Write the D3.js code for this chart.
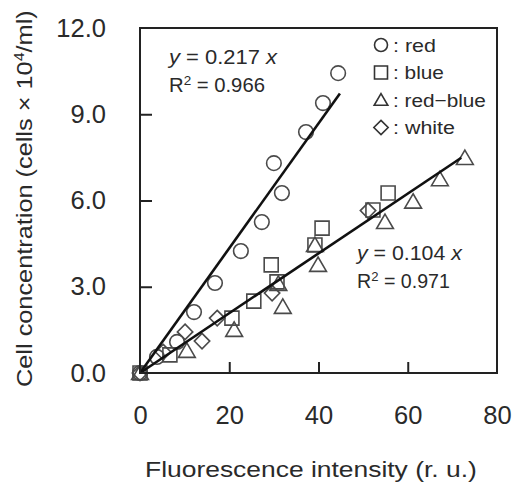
<!DOCTYPE html>
<html><head><meta charset="utf-8">
<script src="https://cdn.jsdelivr.net/npm/d3@7"></script>
<style>body{margin:0;background:#fff}svg{display:block}text{font-family:"Liberation Sans",Arial,sans-serif;fill:#2a2a2a}</style>
</head><body>
<script>
// data
const redX = [0, 3.8, 8.3, 12.1, 16.8, 22.6, 27.3, 30.0, 31.8, 37.2, 41.0, 44.4];
const redY = [0, 0.56, 1.08, 2.12, 3.13, 4.24, 5.25, 7.30, 6.26, 8.38, 9.39, 10.43];
const blueX = [0, 6.7, 20.6, 25.5, 29.4, 30.7, 39.2, 40.8, 52.2, 55.6];
const blueY = [0, 0.63, 1.91, 2.50, 3.76, 3.17, 4.45, 5.04, 5.67, 6.26];
const rbX = [0, 10.5, 21.1, 31.0, 32.0, 39.2, 39.9, 54.9, 61.2, 67.2, 72.8];
const rbY = [0, 0.77, 1.50, 3.10, 2.30, 4.45, 3.76, 5.25, 5.96, 6.74, 7.48];
const whiteX = [0, 5.2, 10.1, 13.9, 17.3, 29.6, 51.1];
const whiteY = [0, 0.73, 1.43, 1.11, 1.91, 2.78, 5.65];
const xTicks = [0, 20, 40, 60, 80];
const yTicks = [0, 3, 6, 9, 12];
const fitSlopes = [0.217, 0.104];
const fitEnds = [44.8, 72];
const fitR2 = ["0.966", "0.971"];
const legendNames = ["red", "blue", "red\u2212blue", "white"];

const W = 513, H = 484;
const m = {l: 140, r: 16, t: 28, b: 111};
const svg = d3.select("body").append("svg").attr("width", W).attr("height", H);
const x = d3.scaleLinear().domain([0, 80]).range([m.l, W - m.r]);
const y = d3.scaleLinear().domain([0, 12]).range([H - m.b, m.t]);

// stretch a text horizontally (in its own coords) so it spans width w from its start
function stretch(t, x0, w) {
  const n = t.node().getComputedTextLength();
  const sx = w / n;
  t.attr("transform", (t.attr("transform") || "") + ` translate(${x0},0) scale(${sx},1) translate(${-x0},0)`);
}

const stroke = "#4a4a4a";
function shape(kind, s) {
  if (kind === "circle") return `M${s},0A${s},${s} 0 1,1 ${-s},0A${s},${s} 0 1,1 ${s},0Z`;
  if (kind === "square") return `M${-s},${-s}H${s}V${s}H${-s}Z`;
  if (kind === "triangle") { const h = s * 1.8; return `M0,${-h*0.55}L${s*1.05},${h*0.45}L${-s*1.05},${h*0.45}Z`; }
  return `M0,${-s*1.1}L${s*1.1},0L0,${s*1.1}L${-s*1.1},0Z`;
}
const series = [
  {kind: "circle", xs: redX, ys: redY, s: 7.3},
  {kind: "square", xs: blueX, ys: blueY, s: 7},
  {kind: "triangle", xs: rbX, ys: rbY, s: 8},
  {kind: "diamond", xs: whiteX, ys: whiteY, s: 7},
];
series.forEach(se => {
  svg.append("g").selectAll("path").data(se.xs.map((v, i) => [v, se.ys[i]])).join("path")
    .attr("d", shape(se.kind, se.s))
    .attr("transform", d => `translate(${x(d[0])},${y(d[1])})`)
    .attr("fill", "none").attr("stroke", stroke).attr("stroke-width", 1.6);
});

// fit lines
fitSlopes.forEach((k, i) => {
  svg.append("line").attr("x1", x(0)).attr("y1", y(0)).attr("x2", x(fitEnds[i])).attr("y2", y(k * fitEnds[i]))
    .attr("stroke", "#111").attr("stroke-width", 2.6);
});

// frame
svg.append("rect").attr("x", m.l).attr("y", m.t).attr("width", W - m.r - m.l).attr("height", H - m.b - m.t)
  .attr("fill", "none").attr("stroke", "#222").attr("stroke-width", 2);

// axes
const xa = svg.append("g").attr("transform", `translate(0,${y(0)})`)
  .call(d3.axisBottom(x).tickValues(xTicks).tickSize(-11).tickPadding(33).tickFormat(d3.format("d")));
const ya = svg.append("g").attr("transform", `translate(${x(0)},0)`)
  .call(d3.axisLeft(y).tickValues(yTicks).tickSize(-12).tickPadding(34).tickFormat(d3.format(".1f")));
[xa, ya].forEach(a => {
  a.select(".domain").remove();
  a.selectAll(".tick line").attr("stroke", "#222").attr("stroke-width", 2);
  a.selectAll(".tick text").attr("font-size", 25.5).attr("fill", "#2a2a2a").attr("font-family", "'Liberation Sans',Arial,sans-serif");
});
xa.selectAll(".tick line").filter(d => d === 0 || d === 80).remove();
ya.selectAll(".tick line").filter(d => d === 0 || d === 12).remove();

// axis titles
const xl = svg.append("text").attr("x", 145).attr("y", 477).attr("font-size", 22.5)
  .text("Fluorescence intensity (r. u.)");
stretch(xl, 145, 332);
const yl = svg.append("text").attr("transform", `translate(32,0) rotate(-90)`).attr("x", -387).attr("y", 0).attr("font-size", 22);
yl.append("tspan").text("Cell concentration (cells \u00d7 10");
yl.append("tspan").attr("dy", -8).attr("font-size", 14).text("4");
yl.append("tspan").attr("dy", 8).text("/ml)");
stretch(yl, -387, 377);

// fit annotations
const ann = [{x: 169, y: 64, w1: 108, w2: 96}, {x: 357, y: 260, w1: 105, w2: 93}];
fitSlopes.forEach((k, i) => {
  const t1 = svg.append("text").attr("x", ann[i].x).attr("y", ann[i].y).attr("font-size", 19.5);
  t1.append("tspan").attr("font-style", "italic").text("y");
  t1.append("tspan").text(` = ${k}  `);
  t1.append("tspan").attr("font-style", "italic").text("x");
  stretch(t1, ann[i].x, ann[i].w1);
  const t2 = svg.append("text").attr("x", ann[i].x).attr("y", ann[i].y + 28).attr("font-size", 19.5);
  t2.append("tspan").text("R");
  t2.append("tspan").attr("dy", -7).attr("font-size", 13).text("2");
  t2.append("tspan").attr("dy", 7).text(` = ${fitR2[i]}`);
  stretch(t2, ann[i].x, ann[i].w2);
});

// legend
const legendW = [43, 51, 93, 62];
const lg = svg.append("g");
series.forEach((se, i) => {
  const cy = 45 + i * 27.5;
  lg.append("path").attr("d", shape(se.kind, 6.5)).attr("transform", `translate(381,${cy})`)
    .attr("fill", "none").attr("stroke", "#333").attr("stroke-width", 1.6);
  const t = lg.append("text").attr("x", 393).attr("y", cy + 7).attr("font-size", 19).text(": " + legendNames[i]);
  stretch(t, 393, legendW[i]);
});
</script>
</body></html>
